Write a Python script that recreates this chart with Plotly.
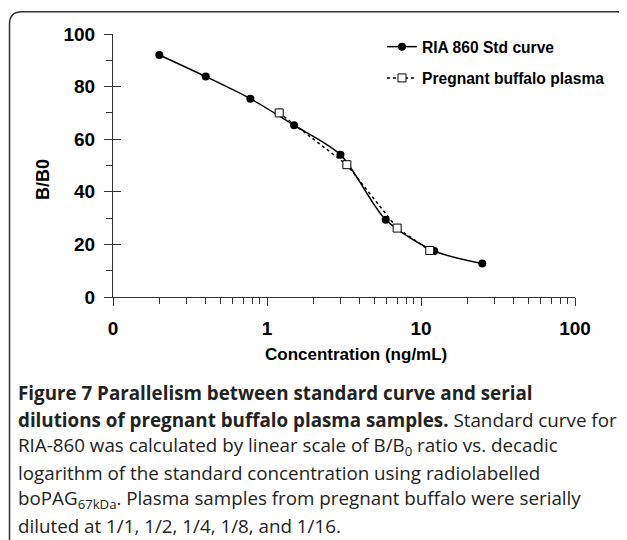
import plotly.graph_objects as go

# standard curve (filled circles)
std_conc = [0.2, 0.4, 0.78, 1.5, 3.0, 5.9, 12.2, 25.0]
std_bb0 = [92.0, 83.8, 75.4, 65.3, 54.1, 29.4, 17.5, 12.7]

# pregnant buffalo plasma dilutions (open squares)
plasma_conc = [1.2, 3.3, 7.0, 11.4]
plasma_bb0 = [70.0, 50.3, 26.2, 17.7]

x_tickvals = [0.1, 1, 10, 100]
x_ticktext = ["0", "1", "10", "100"]

caption_lines = [
    "<b>Figure 7 Parallelism between standard curve and serial</b>",
    "<b>dilutions of pregnant buffalo plasma samples.</b> Standard curve for",
    "RIA-860 was calculated by linear scale of B/B<sub>0</sub> ratio vs. decadic",
    "logarithm of the standard concentration using radiolabelled",
    "boPAG<sub>67kDa</sub>. Plasma samples from pregnant buffalo were serially",
    "diluted at 1/1, 1/2, 1/4, 1/8, and 1/16.",
]

# the page body has an 8px margin, so the figure is shrunk by that much
OFF = 8
W, H = 627 - OFF, 540 - OFF
L, R, T, B = 105, 52, 26, 243
pw, ph = W - L - R, H - T - B


# screen pixel -> paper coordinate
def px(x):
    return (x - OFF - L) / pw


def py(y):
    return (H - B - (y - OFF)) / ph


chart_font = "Arial, Liberation Sans, sans-serif"
bold = dict(family=chart_font, color="black", weight="bold")

fig = go.Figure()
fig.add_trace(go.Scatter(x=std_conc, y=std_bb0, mode="lines+markers",
                         name="RIA 860 Std curve", legendgroup="a",
                         line=dict(color="black", width=1.5, shape="spline", smoothing=0.8),
                         marker=dict(symbol="circle", size=8, color="black")))
fig.add_trace(go.Scatter(x=plasma_conc, y=plasma_bb0, mode="lines+markers",
                         name="Pregnant buffalo plasma", legendgroup="b",
                         line=dict(color="black", width=1.5, dash="dot"),
                         marker=dict(symbol="square", size=8, color="white",
                                     line=dict(color="black", width=1))))
# empty trace so the overlay axis (inner half of the y ticks) gets drawn
fig.add_trace(go.Scatter(x=[None], y=[None], yaxis="y2", showlegend=False, hoverinfo="skip"))

fig.update_layout(
    xaxis=dict(type="log", range=[-1, 2], tickvals=x_tickvals, ticktext=x_ticktext,
               ticks="outside", ticklen=8, tickcolor="#333", showline=True,
               linecolor="#333", linewidth=1, showgrid=False, zeroline=False,
               tickfont=dict(size=19, **bold), ticklabelstandoff=6,
               minor=dict(ticks="outside", ticklen=6, tickcolor="#333",
                          tickvals=[m * 10 ** e for e in (-1, 0, 1) for m in range(2, 10)])),
    yaxis=dict(range=[0, 100], dtick=20, ticks="outside", ticklen=8, tickcolor="#333",
               showline=True, linecolor="#333", linewidth=1, showgrid=False,
               zeroline=False, ticklabelstandoff=5, tickfont=dict(size=19, **bold),
               minor=dict(ticks="outside", ticklen=6, tickcolor="#333", dtick=10)),
    yaxis2=dict(range=[0, 100], dtick=20, ticks="inside", ticklen=8, tickcolor="#333",
                overlaying="y", side="left", showticklabels=False, showline=False,
                showgrid=False, zeroline=False),
)

annotations = [
    dict(text="Concentration (ng/mL)", x=px(356), y=py(355), xref="paper", yref="paper",
         xanchor="center", yanchor="middle", showarrow=False, font=dict(size=17, **bold)),
    dict(text="B/B0", x=px(43), y=py(180), xref="paper", yref="paper", textangle=-90,
         xanchor="center", yanchor="middle", showarrow=False, font=dict(size=18, **bold)),
]
for i, line in enumerate(caption_lines):
    annotations.append(dict(text=line, x=px(16), y=py(393 + i * 26.6), xref="paper",
                            yref="paper", xanchor="left", yanchor="middle", showarrow=False,
                            font=dict(family="Open Sans, sans-serif", size=18.8, color="#222")))

frame = (f"M {px(9.5)},{py(560)} L {px(9.5)},{py(24)} "
         f"Q {px(9.5)},{py(11.7)} {px(22)},{py(11.7)} L {px(616)},{py(11.7)} "
         f"Q {px(630)},{py(11.7)} {px(630)},{py(26)}")

fig.update_layout(
    width=W, height=H, margin=dict(l=L, r=R, t=T, b=B),
    plot_bgcolor="white", paper_bgcolor="white",
    showlegend=True,
    legend=dict(x=px(382), y=py(30), xanchor="left", yanchor="top",
                traceorder="grouped", tracegroupgap=8, bgcolor="rgba(0,0,0,0)",
                font=dict(size=15.6, **bold)),
    annotations=annotations,
    shapes=[dict(type="path", path=frame, xref="paper", yref="paper",
                 line=dict(color="#333", width=1.5))],
)

fig.write_html("out.html")
